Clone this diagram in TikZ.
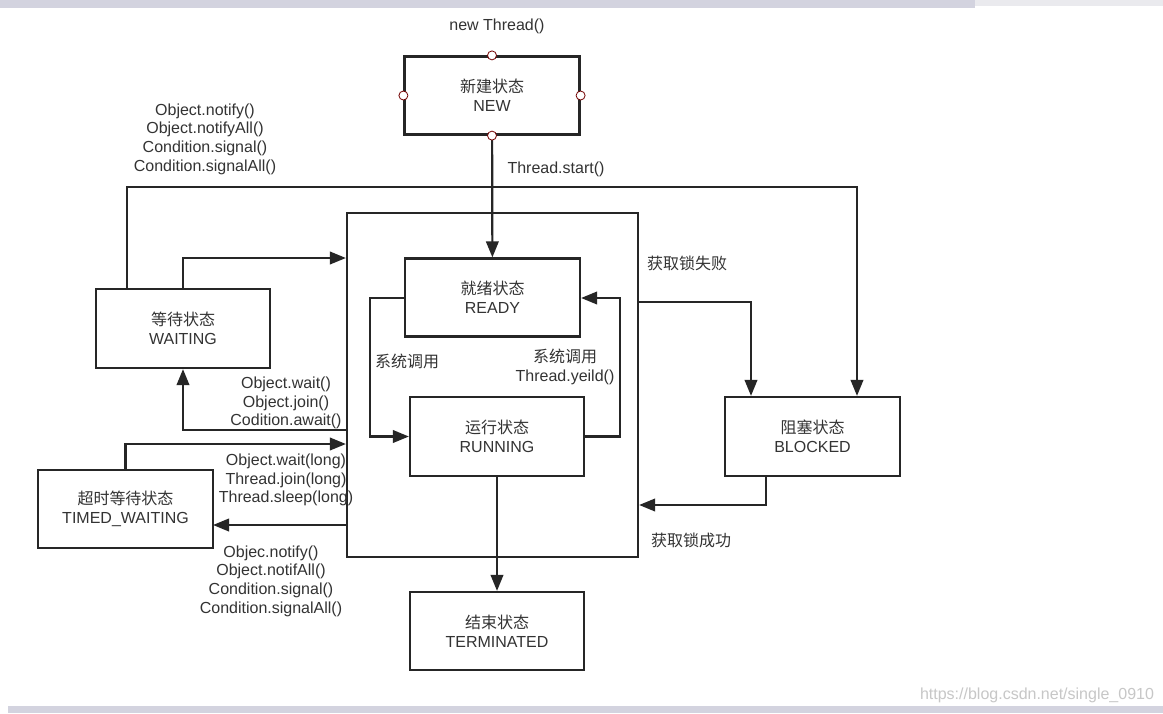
\documentclass[tikz,border=0pt]{standalone}
\usepackage{fontspec}
\setmainfont{Liberation Sans}
\newfontfamily\cjk{Noto Sans CJK SC}
\usetikzlibrary{arrows.meta}
\begin{document}
\begin{tikzpicture}[
  x=1pt, y=-1pt,
  font=\fontsize{16pt}{18.7pt}\selectfont,
  stbox/.style={draw=black!85, line width=2.2pt, minimum width=175pt, minimum height=78pt, align=center, inner sep=0pt, text=black!80},
  arr/.style={draw=black!85, line width=2.2pt, -{Triangle[length=16pt,width=12.5pt]}},
  lbl/.style={align=center, text=black!80, inner sep=0pt},
  handle/.style={draw=red!45!black, fill=white, line width=0.8pt}
]
\useasboundingbox (0,0) rectangle (1163,713);
\fill[white] (0,0) rectangle (1163,713);
% screenshot bands
\fill[blue!15!gray!30] (0,0) rectangle (975,8);
\fill[blue!10!gray!15] (975,0) rectangle (1163,6);
\fill[blue!15!gray!30] (8,706) rectangle (1163,713);

% container
\node[draw=black!85, line width=2.2pt, minimum width=291pt, minimum height=344pt, inner sep=0pt] (cont) at (492.5,385) {};

% states
\node[stbox] (new) at (492,95.5) {{\cjk 新建状态}\\NEW};
\node[stbox] (ready) at (492.5,297.5) {{\cjk 就绪状态}\\READY};
\node[stbox, minimum width=174pt, minimum height=79pt] (running) at (497,436.5) {{\cjk 运行状态}\\RUNNING};
\node[stbox, minimum width=174pt] (term) at (497,631) {{\cjk 结束状态}\\TERMINATED};
\node[stbox, minimum width=174pt, minimum height=79pt] (waiting) at (183,328.5) {{\cjk 等待状态}\\WAITING};
\node[stbox] (timed) at (125.5,509) {{\cjk 超时等待状态}\\TIMED\_WAITING};
\node[stbox, minimum width=175pt, minimum height=79pt] (blocked) at (812.5,436.5) {{\cjk 阻塞状态}\\BLOCKED};

% coordinates
\coordinate (t1) at (127,187);
\coordinate (t2) at (857,187);
\coordinate (w1) at (183,258);
\coordinate (w2) at (183,430);
\coordinate (tw1) at (125.5,444);
\coordinate (tw2) at (213,525);
\coordinate (l1) at (370,298);
\coordinate (r1) at (620,298);
\coordinate (b1) at (751,302);
\coordinate (b2) at (766,505);

% connectors
\draw[arr] (new) -- (ready);
\draw[arr] (waiting.north -| t1) -- (t1) -- (t2) -- (t2 |- blocked.north);
\draw[arr] (waiting.north) -- (w1) -- (cont.west |- w1);
\draw[arr] (cont.west |- w2) -- (w2) -- (waiting.south);
\draw[arr] (timed.north) -- (tw1) -- (cont.west |- tw1);
\draw[arr] (cont.west |- tw2) -- (tw2);
\draw[arr] (ready.west |- l1) -- (l1) |- (running.west);
\draw[arr] (running.east) -| (r1) -- (ready.east |- r1);
\draw[arr] (running) -- (term);
\draw[arr] (cont.east |- b1) -- (b1) -- (b1 |- blocked.north);
\draw[arr] (b2 |- blocked.south) -- (b2) -- (cont.east |- b2);

% handles on NEW
\foreach \a in {north,south,east,west} \draw[handle] (new.\a) circle (4.5pt);

% labels
\node[lbl] (lnew) at (497,26) {new Thread()};
\node[lbl] (lnotify) at (205,139) {Object.notify()\\Object.notifyAll()\\Condition.signal()\\Condition.signalAll()};
\node[lbl] (lstart) at (556,169) {Thread.start()};
\node[lbl] (lfail) at (687,263) {\cjk 获取锁失败};
\node[lbl] (lok) at (691,540) {\cjk 获取锁成功};
\node[lbl] (lsys1) at (407,361) {\cjk 系统调用};
\node[lbl] (lsys2) at (565,367) {{\cjk 系统调用}\\Thread.yeild()};
\node[lbl] (lwait) at (286,403) {Object.wait()\\Object.join()\\Codition.await()};
\node[lbl] (lwaitl) at (286,480) {Object.wait(long)\\Thread.join(long)\\Thread.sleep(long)};
\node[lbl] (lnotify2) at (271,581) {Objec.notify()\\Object.notifAll()\\Condition.signal()\\Condition.signalAll()};
\node[lbl, text=black!22] (wm) at (1037,695) {https://blog.csdn.net/single\_0910};
\end{tikzpicture}
\end{document}
